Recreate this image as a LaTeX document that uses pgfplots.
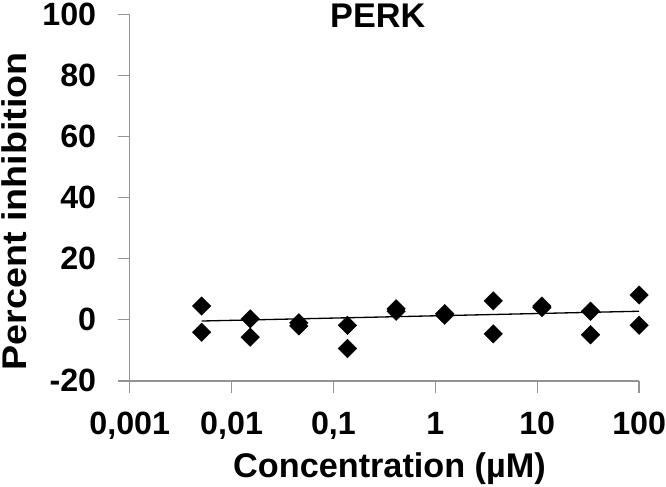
\documentclass[border=0pt]{standalone}
\usepackage{pgfplots}
\pgfplotsset{compat=1.18}
\usepackage{graphicx}
\usepackage{fontspec}
\setmainfont{Liberation Sans}
\begin{document}
\fontsize{32}{38}\selectfont\bfseries
\begin{tikzpicture}
\begin{axis}[
  scale only axis,
  width=506pt, height=364pt,
  xmode=log,
  xmin=0.001, xmax=100,
  ymin=-20, ymax=100,
  xtick={0.001,0.01,0.1,1,10,100},
  xticklabels={{0,001},{0,01},{0,1},1,10,100},
  ytick={-20,0,20,40,60,80,100},
  xminorticks=false, yminorticks=false,
  axis x line=bottom, axis y line=left,
  axis line style={-, draw=gray!85, line width=1.3pt},
  every tick/.style={draw=gray!85, line width=1.3pt},
  tick align=outside,
  major tick length=12pt,
  /pgf/number format/assume math mode=true,
  tick label style={font=\fontsize{32}{38}\selectfont\bfseries, inner xsep=0pt, inner ysep=3pt},
  xticklabel style={yshift=-15.7pt},
  yticklabel style={xshift=-21.2pt},
  xlabel={Concentration (µM)},
  ylabel={\scalebox{1.1}[1]{Percent inhibition}},
  label style={font=\fontsize{34}{40}\selectfont\bfseries, inner sep=1.5pt},
  xlabel style={at={(axis description cs:0.51,-0.265)}, anchor=base},
  ylabel style={at={(axis description cs:-0.227,0.463)}, anchor=center},
  clip=false,
]
\addplot[black, line width=1.3pt, no marks] coordinates {
  (0.00508,-0.4) (100,2.8)
};
\addplot[only marks, mark=square*, mark size=6.5pt, mark options={rotate=45, fill=black, draw=black}] coordinates {
  (0.00508,4.5) (0.00508,-4.1)
  (0.01524,0.3) (0.01524,-5.7)
  (0.04572,-1.0) (0.04572,-2.0)
  (0.1372,-1.8) (0.1372,-9.4)
  (0.4115,2.8) (0.4115,3.6)
  (1.235,1.5) (1.235,2.0)
  (3.704,6.2) (3.704,-4.6)
  (11.11,4.0) (11.11,4.5)
  (33.33,2.8) (33.33,-4.9)
  (100,8.1) (100,-1.8)
};
\node[anchor=base, inner xsep=0pt, inner ysep=3pt, font=\fontsize{34}{40}\selectfont\bfseries] at (axis description cs:0.487,0.9635) {PERK};
\end{axis}
\end{tikzpicture}
\end{document}
